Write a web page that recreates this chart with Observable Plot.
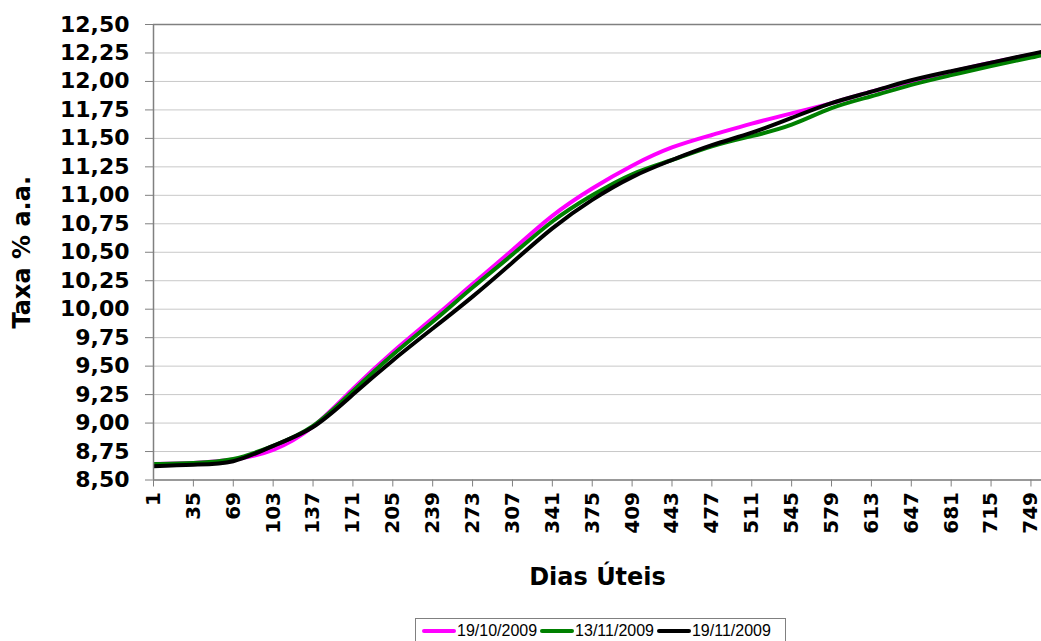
<!DOCTYPE html>
<html>
<head>
<meta charset="utf-8">
<script src="https://cdn.jsdelivr.net/npm/d3@7"></script>
<script src="https://cdn.jsdelivr.net/npm/@observablehq/plot@0.6"></script>
<style>
  html, body { margin: 0; padding: 0; background: #fff; }
  #wrap { position: relative; width: 1041px; height: 641px; overflow: hidden; }
  #chart { position: absolute; left: 0; top: 0; }
  #legend { position: absolute; left: 415px; top: 618px; width: 371px; box-sizing: border-box; height: 30px;
    border: 1px solid #808080; background: #fff;
    font-family: "Liberation Sans", Arial, sans-serif; font-size: 16px; padding: 3px 0 0 6px;
    display: flex; align-items: flex-start; white-space: nowrap; }
  .item { display: flex; align-items: center; margin-right: 3px; }
  .sw { display: inline-block; width: 34px; height: 4px; margin-right: 1px; border-radius: 2px; }
</style>
</head>
<body>
<div id="wrap">
  <div id="chart"></div>
  <div id="legend"></div>
</div>
<script>
const seriesNames = ["19/10/2009", "13/11/2009", "19/11/2009"];
const seriesColors = ["#ff00ff", "#008000", "#000000"];
const xTicks = [1, 35, 69, 103, 137, 171, 205, 239, 273, 307, 341, 375, 409, 443, 477, 511, 545, 579, 613, 647, 681, 715, 749];
const yTicks = [8.5, 8.75, 9, 9.25, 9.5, 9.75, 10, 10.25, 10.5, 10.75, 11, 11.25, 11.5, 11.75, 12, 12.25, 12.5];
const days = [1, 35, 69, 103, 137, 171, 205, 239, 273, 307, 341, 375, 409, 443, 477, 511, 545, 579, 613, 647, 681, 715, 749, 758];
const serie1 = [8.64, 8.65, 8.68, 8.765, 8.97, 9.30, 9.625, 9.92, 10.22, 10.52, 10.82, 11.06, 11.26, 11.42, 11.53, 11.63, 11.72, 11.81, 11.91, 12.00, 12.085, 12.165, 12.235, 12.255];
const serie2 = [8.64, 8.65, 8.685, 8.80, 8.975, 9.28, 9.60, 9.89, 10.19, 10.48, 10.77, 11.00, 11.185, 11.31, 11.43, 11.52, 11.62, 11.765, 11.87, 11.97, 12.055, 12.135, 12.21, 12.23];
const serie3 = [8.62, 8.635, 8.665, 8.80, 8.965, 9.25, 9.55, 9.83, 10.11, 10.41, 10.71, 10.96, 11.16, 11.31, 11.44, 11.55, 11.68, 11.81, 11.91, 12.01, 12.09, 12.165, 12.24, 12.26];

const allSeries = [serie1, serie2, serie3];
const data = [];
allSeries.forEach((vals, si) => {
  vals.forEach((v, i) => data.push({series: seriesNames[si], day: days[i], value: v}));
});

const fmt = d => d3.format(".2f")(d).replace(".", ",");
const font = "'DejaVu Sans', Verdana, sans-serif";

const chart = Plot.plot({
  width: 1041,
  height: 600,
  marginTop: 24,
  marginBottom: 120.5,
  marginLeft: 153,
  marginRight: 0,
  style: {fontFamily: font, color: "#000", background: "#fff"},
  x: {type: "linear", domain: [1, 758]},
  y: {domain: [8.5, 12.5]},
  color: {domain: seriesNames, range: seriesColors},
  marks: [
    Plot.gridY(yTicks, {stroke: "#c8c8c8", strokeOpacity: 1, strokeWidth: 1}),
    Plot.ruleY([12.5], {stroke: "#808080", strokeWidth: 1.5}),
    Plot.axisY({ticks: yTicks, tickFormat: fmt, tickSize: 8, tickPadding: 16, stroke: "#808080", fill: "#000",
      fontSize: 22, fontWeight: "bold", label: null}),
    Plot.axisX({ticks: xTicks, tickFormat: d => String(d), tickRotate: -90, tickSize: 7, tickPadding: 5,
      stroke: "#808080", fill: "#000", fontSize: 20, fontWeight: "bold", label: null}),
    Plot.line(data, {x: "day", y: "value", z: "series", stroke: "series", strokeWidth: 4, curve: "natural", clip: true}),
    Plot.ruleY([8.5], {stroke: "#808080", strokeWidth: 1.5}),
    Plot.ruleX([1], {stroke: "#808080", strokeWidth: 1.5}),
    Plot.text(["Taxa % a.a."], {frameAnchor: "left", dx: -131, rotate: -90, textAnchor: "middle", lineAnchor: "middle",
      fontSize: 24, fontWeight: "bold", fill: "#000"}),
    Plot.text(["Dias Úteis"], {frameAnchor: "bottom", dy: 97, textAnchor: "middle", lineAnchor: "middle",
      fontSize: 24, fontWeight: "bold", fill: "#000"})
  ]
});
document.getElementById("chart").appendChild(chart);

const legend = document.getElementById("legend");
seriesNames.forEach((name, i) => {
  const it = document.createElement("span");
  it.className = "item";
  const sw = document.createElement("span");
  sw.className = "sw";
  sw.style.background = seriesColors[i];
  it.appendChild(sw);
  const t = document.createElement("span");
  t.textContent = name;
  it.appendChild(t);
  legend.appendChild(it);
});
</script>
</body>
</html>
